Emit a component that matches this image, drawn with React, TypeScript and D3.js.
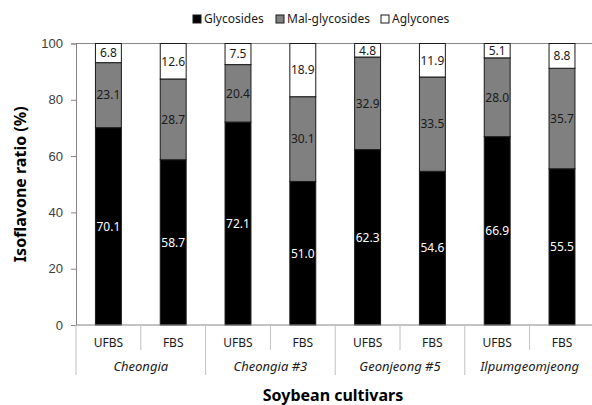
import { useEffect, useRef } from "react";
import * as d3 from "d3";

// chart values
const samples = ["UFBS", "FBS", "UFBS", "FBS", "UFBS", "FBS", "UFBS", "FBS"];
const cultivars = ["Cheongia", "Cheongia #3", "Geonjeong #5", "Ilpumgeomjeong"];
const glycosides = [70.1, 58.7, 72.1, 51.0, 62.3, 54.6, 66.9, 55.5];
const malGlycosides = [23.1, 28.7, 20.4, 30.1, 32.9, 33.5, 28.0, 35.7];
const aglycones = [6.8, 12.6, 7.5, 18.9, 4.8, 11.9, 5.1, 8.8];
const seriesNames = ["Glycosides", "Mal-glycosides", "Aglycones"];
const yTicks = [0, 20, 40, 60, 80, 100];

const W = 592;
const H = 405;
const LEFT = 76;
const RIGHT = 594.4;
const TOP = 43.5;
const BOTTOM = 325;

const fills = ["#000000", "#808080", "#ffffff"];
const labelColors = ["#ffffff", "#1a1a1a", "#1a1a1a"];
const textFont = "'Noto Sans', 'Open Sans', sans-serif";

export default function App() {
  const ref = useRef<SVGSVGElement>(null);

  useEffect(() => {
    const svg = d3.select(ref.current);
    svg.selectAll("*").remove();

    const idx = samples.map((_, i) => String(i));
    const x = d3.scaleBand<string>().domain(idx).range([LEFT, RIGHT]).paddingInner(0.6).paddingOuter(0.3);
    const y = d3.scaleLinear().domain([0, 100]).range([BOTTOM, TOP]);
    const step = x.step();

    const rows = samples.map((s, i) => ({
      key: String(i),
      Glycosides: glycosides[i],
      "Mal-glycosides": malGlycosides[i],
      Aglycones: aglycones[i],
    }));
    const stacked = d3.stack<any>().keys(seriesNames)(rows);

    // top border line of plot area
    svg.append("line")
      .attr("x1", LEFT).attr("x2", W)
      .attr("y1", y(100)).attr("y2", y(100))
      .attr("stroke", "#868686").attr("stroke-width", 1);

    // bars
    stacked.forEach((layer, si) => {
      const g = svg.append("g");
      g.selectAll("rect")
        .data(layer)
        .join("rect")
        .attr("x", (d: any) => x(d.data.key)!)
        .attr("width", x.bandwidth())
        .attr("y", (d) => y(d[1]))
        .attr("height", (d) => y(d[0]) - y(d[1]))
        .attr("fill", fills[si])
        .attr("stroke", "#1a1a1a")
        .attr("stroke-width", 1);
      g.selectAll("text")
        .data(layer)
        .join("text")
        .attr("x", (d: any) => x(d.data.key)! + x.bandwidth() / 2)
        .attr("y", (d) => y((d[0] + d[1]) / 2))
        .attr("dy", "0.36em")
        .attr("text-anchor", "middle")
        .attr("font-family", textFont)
        .attr("font-size", 12)
        .attr("fill", labelColors[si])
        .text((d) => (d[1] - d[0]).toFixed(1));
    });

    // y axis
    const yAxis = svg.append("g")
      .attr("transform", `translate(${LEFT},0)`)
      .call(d3.axisLeft(y).tickValues(yTicks).tickSize(5).tickPadding(8));
    yAxis.select(".domain").attr("stroke", "#868686");
    yAxis.selectAll(".tick line").attr("stroke", "#868686");
    yAxis.selectAll(".tick text")
      .attr("font-family", "'Liberation Sans', Arial, sans-serif")
      .attr("font-size", 13)
      .attr("fill", "#404040");

    // x axis baseline
    svg.append("line")
      .attr("x1", LEFT).attr("x2", W)
      .attr("y1", BOTTOM).attr("y2", BOTTOM)
      .attr("stroke", "#868686");

    // separators
    for (let i = 0; i <= samples.length; i++) {
      const xx = LEFT + i * step;
      if (xx > W) continue;
      const long = i % 2 === 0;
      svg.append("line")
        .attr("x1", xx).attr("x2", xx)
        .attr("y1", BOTTOM).attr("y2", long ? 375 : 350)
        .attr("stroke", "#c0c0c0");
    }

    // sample labels
    svg.append("g").selectAll("text")
      .data(samples)
      .join("text")
      .attr("x", (_, i) => x(String(i))! + x.bandwidth() / 2)
      .attr("y", 343)
      .attr("dy", "0.36em")
      .attr("text-anchor", "middle")
      .attr("font-family", textFont)
      .attr("font-size", 12)
      .attr("fill", "#1a1a1a")
      .text((d) => d);

    // cultivar labels
    svg.append("g").selectAll("text")
      .data(cultivars)
      .join("text")
      .attr("x", (_, i) => LEFT + (i * 2 + 1) * step)
      .attr("y", 366)
      .attr("dy", "0.36em")
      .attr("text-anchor", "middle")
      .attr("font-family", textFont)
      .attr("font-style", "italic")
      .attr("font-size", 13)
      .attr("fill", "#1a1a1a")
      .text((d) => d);

    // axis titles
    svg.append("text")
      .attr("x", 333).attr("y", 395)
      .attr("dy", "0.36em")
      .attr("text-anchor", "middle")
      .attr("font-family", textFont)
      .attr("font-weight", "bold")
      .attr("font-size", 16)
      .attr("fill", "#000")
      .text("Soybean cultivars");

    svg.append("text")
      .attr("transform", `translate(20,${(TOP + BOTTOM) / 2}) rotate(-90)`)
      .attr("dy", "0.36em")
      .attr("text-anchor", "middle")
      .attr("font-family", textFont)
      .attr("font-weight", "bold")
      .attr("font-size", 16)
      .attr("fill", "#000")
      .text("Isoflavone ratio (%)");

    // legend
    const legendX = [193, 276, 381];
    const lg = svg.append("g");
    seriesNames.forEach((name, i) => {
      lg.append("rect")
        .attr("x", legendX[i]).attr("y", 15)
        .attr("width", 8).attr("height", 8)
        .attr("fill", fills[i])
        .attr("stroke", "#1a1a1a");
      lg.append("text")
        .attr("x", legendX[i] + 11).attr("y", 19)
        .attr("dy", "0.36em")
        .attr("font-family", textFont)
        .attr("font-size", 12)
        .attr("fill", "#1a1a1a")
        .text(name);
    });
  }, []);

  return (
    <svg
      ref={ref}
      width={W}
      height={H}
      style={{ position: "absolute", left: 0, top: 0, background: "#fff" }}
    />
  );
}
